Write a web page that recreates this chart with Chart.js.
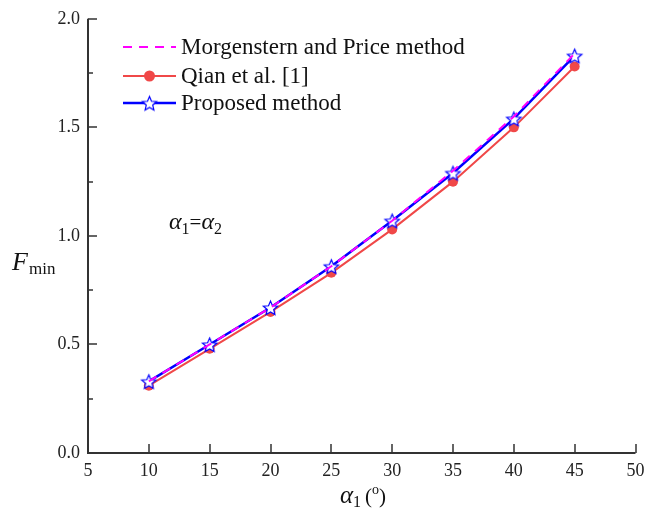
<!DOCTYPE html>
<html>
<head>
<meta charset="utf-8">
<script src="https://cdn.jsdelivr.net/npm/chart.js@4"></script>
<style>
  html, body { margin: 0; padding: 0; background: #fff; }
  #wrap { width: 646px; height: 521px; }
</style>
</head>
<body>
<div id="wrap"><canvas id="grafico" width="646" height="521"></canvas></div>
<script>
// dados
const angulos = [10, 15, 20, 25, 30, 35, 40, 45];
const morgenstern = [0.33, 0.50, 0.67, 0.86, 1.07, 1.30, 1.55, 1.84];
const qian = [0.31, 0.48, 0.65, 0.83, 1.03, 1.25, 1.50, 1.78];
const proposto = [0.33, 0.50, 0.67, 0.86, 1.07, 1.29, 1.54, 1.83];
const xTicks = [5, 10, 15, 20, 25, 30, 35, 40, 45, 50];
const yTicks = [0, 0.5, 1.0, 1.5, 2.0];
const yMinor = [0.25, 0.75, 1.25, 1.75];
const nomes = ["Morgenstern and Price method", "Qian et al. [1]", "Proposed method"];

const serif = "'Liberation Serif', 'Times New Roman', serif";
const corEixo = "#333";

// estrela de 5 pontas (contorno azul, fundo branco)
function criaEstrela(r) {
  const c = document.createElement("canvas");
  const s = Math.ceil(r * 2 + 4);
  c.width = s; c.height = s;
  const g = c.getContext("2d");
  g.beginPath();
  for (let i = 0; i < 10; i++) {
    const rad = i % 2 === 0 ? r : r * 0.45;
    const a = -Math.PI / 2 + i * Math.PI / 5;
    const px = s / 2 + rad * Math.cos(a);
    const py = s / 2 + rad * Math.sin(a) + 1;
    if (i === 0) g.moveTo(px, py); else g.lineTo(px, py);
  }
  g.closePath();
  g.fillStyle = "#fff";
  g.fill();
  g.lineWidth = 1.2;
  g.strokeStyle = "#0000ff";
  g.stroke();
  return c;
}
const estrela = criaEstrela(7.5);

function pares(ys) {
  return angulos.map((x, i) => ({ x: x, y: ys[i] }));
}

// desenha eixos, ticks, títulos, legenda e anotação
const extras = {
  id: "extras",
  afterDraw(chart) {
    const ctx = chart.ctx;
    const xs = chart.scales.x, ys = chart.scales.y;
    const area = chart.chartArea;
    ctx.save();
    ctx.strokeStyle = corEixo;
    ctx.lineWidth = 2;
    ctx.beginPath();
    ctx.moveTo(area.left, area.top);
    ctx.lineTo(area.left, area.bottom);
    ctx.lineTo(area.right, area.bottom);
    ctx.stroke();

    ctx.lineWidth = 1.5;
    ctx.beginPath();
    xTicks.forEach(v => {
      const px = Math.round(xs.getPixelForValue(v));
      ctx.moveTo(px, area.bottom);
      ctx.lineTo(px, area.bottom - 9);
    });
    yTicks.forEach(v => {
      const py = Math.round(ys.getPixelForValue(v));
      ctx.moveTo(area.left, py);
      ctx.lineTo(area.left + 9, py);
    });
    yMinor.forEach(v => {
      const py = Math.round(ys.getPixelForValue(v));
      ctx.moveTo(area.left, py);
      ctx.lineTo(area.left + 5, py);
    });
    ctx.stroke();

    ctx.fillStyle = "#111";
    ctx.textBaseline = "alphabetic";
    // título do eixo y: F_min
    ctx.textAlign = "left";
    ctx.font = "italic 26px " + serif;
    ctx.fillText("F", 12, 270);
    ctx.font = "17px " + serif;
    ctx.fillText("min", 29, 274);

    // título do eixo x: α1 (°)
    let x0 = 340, y0 = 503;
    ctx.font = "italic 25px " + serif;
    ctx.fillText("α", x0, y0);
    x0 += ctx.measureText("α").width;
    ctx.font = "16px " + serif;
    ctx.fillText("1", x0, y0 + 4);
    x0 += ctx.measureText("1").width + 4;
    ctx.font = "21px " + serif;
    ctx.fillText("(", x0, y0);
    x0 += ctx.measureText("(").width;
    ctx.font = "14px " + serif;
    ctx.fillText("o", x0, y0 - 9);
    x0 += ctx.measureText("o").width;
    ctx.font = "21px " + serif;
    ctx.fillText(")", x0, y0);

    // anotação α1=α2
    x0 = 169; y0 = 229;
    ctx.font = "italic 24px " + serif;
    ctx.fillText("α", x0, y0);
    x0 += ctx.measureText("α").width;
    ctx.font = "16px " + serif;
    ctx.fillText("1", x0, y0 + 5);
    x0 += ctx.measureText("1").width;
    ctx.font = "21px " + serif;
    ctx.fillText("=", x0, y0);
    x0 += ctx.measureText("=").width;
    ctx.font = "italic 24px " + serif;
    ctx.fillText("α", x0, y0);
    x0 += ctx.measureText("α").width;
    ctx.font = "16px " + serif;
    ctx.fillText("2", x0, y0 + 5);

    // legenda
    const lx1 = 123, lx2 = 176, tx = 181;
    const linhas = [47, 76, 103];
    ctx.font = "23px " + serif;
    ctx.textBaseline = "middle";
    // Morgenstern
    ctx.strokeStyle = "#ff00ff";
    ctx.lineWidth = 2;
    ctx.setLineDash([9, 7]);
    ctx.beginPath();
    ctx.moveTo(lx1, linhas[0]); ctx.lineTo(lx2, linhas[0]);
    ctx.stroke();
    ctx.setLineDash([]);
    // Qian
    ctx.strokeStyle = "#f04848";
    ctx.beginPath();
    ctx.moveTo(lx1, linhas[1]); ctx.lineTo(lx2, linhas[1]);
    ctx.stroke();
    ctx.fillStyle = "#f04848";
    ctx.beginPath();
    ctx.arc((lx1 + lx2) / 2, linhas[1], 5.5, 0, Math.PI * 2);
    ctx.fill();
    // Proposto
    ctx.strokeStyle = "#0000ff";
    ctx.lineWidth = 2.5;
    ctx.beginPath();
    ctx.moveTo(lx1, linhas[2]); ctx.lineTo(lx2, linhas[2]);
    ctx.stroke();
    ctx.drawImage(estrela, (lx1 + lx2) / 2 - estrela.width / 2, linhas[2] - estrela.height / 2);

    ctx.fillStyle = "#111";
    nomes.forEach((n, i) => ctx.fillText(n, tx, linhas[i] + 1));
    ctx.restore();
  }
};

new Chart(document.getElementById("grafico"), {
  type: "line",
  data: {
    datasets: [
      {
        label: nomes[0], data: pares(morgenstern), order: 0,
        borderColor: "#ff00ff", borderWidth: 2, borderDash: [9, 7],
        pointRadius: 0, fill: false, tension: 0
      },
      {
        label: nomes[1], data: pares(qian), order: 2,
        borderColor: "#f04848", backgroundColor: "#f04848", borderWidth: 2,
        pointStyle: "circle", pointRadius: 5, pointBorderWidth: 0, fill: false, tension: 0
      },
      {
        label: nomes[2], data: pares(proposto), order: 1,
        borderColor: "#0000ff", borderWidth: 2.5,
        pointStyle: estrela, pointRadius: 8, fill: false, tension: 0
      }
    ]
  },
  options: {
    responsive: false,
    animation: false,
    devicePixelRatio: 1,
    layout: { padding: { left: 0, right: 0, top: 12, bottom: 0 } },
    plugins: { legend: { display: false }, tooltip: { enabled: false } },
    scales: {
      x: {
        type: "linear", min: 5, max: 50,
        afterFit: s => { s.height = 68; s.paddingRight = 9; s.paddingLeft = 0; },
        afterBuildTicks: s => { s.ticks = xTicks.map(v => ({ value: v })); },
        grid: { display: false, drawTicks: false, tickLength: 0 }, border: { display: false },
        ticks: { color: "#222", padding: 7, font: { family: serif, size: 18 }, maxRotation: 0 }
      },
      y: {
        min: 0, max: 2,
        afterFit: s => { s.width = 88; },
        afterBuildTicks: s => { s.ticks = yTicks.map(v => ({ value: v })); },
        grid: { display: false, drawTicks: false, tickLength: 0 }, border: { display: false },
        ticks: { color: "#222", padding: 8, font: { family: serif, size: 18 },
                 callback: v => v.toFixed(1) }
      }
    }
  },
  plugins: [extras]
});
</script>
</body>
</html>
